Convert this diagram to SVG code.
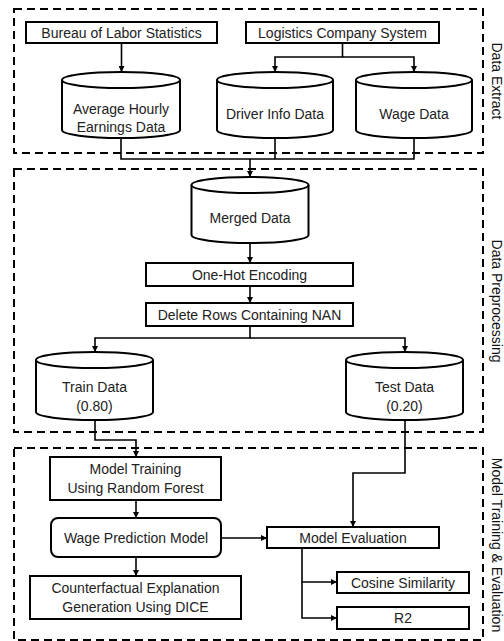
<svg xmlns="http://www.w3.org/2000/svg" width="504" height="641" viewBox="0 0 504 641">
<defs>
<marker id="ah" viewBox="0 0 6 6" refX="6" refY="3" markerWidth="6" markerHeight="6" markerUnits="userSpaceOnUse" orient="auto">
<path d="M0,0 L6,3 L0,6 Z" fill="#000"/>
</marker>
</defs>
<style>
.grp{fill:none;stroke:#000;stroke-width:2;stroke-dasharray:8 5}
.box{fill:#fff;stroke:#000;stroke-width:2}
.cyl{fill:#fff;stroke:#000;stroke-width:2}
.t{font-family:"Liberation Sans",Arial,sans-serif;font-size:14px;fill:#222;text-anchor:middle}
.lbl{font-family:"Liberation Sans",Arial,sans-serif;font-size:14px;fill:#111;text-anchor:middle}
.c{fill:none;stroke:#000;stroke-width:1.6}
.a{marker-end:url(#ah)}
</style>

<g id="groups">
<rect class="grp" x="14" y="9" width="469" height="144"/>
<rect class="grp" x="14" y="169" width="469" height="263"/>
<rect class="grp" x="14" y="448" width="469" height="192"/>
<text class="lbl" transform="translate(491.5,81) rotate(90)">Data Extract</text>
<text class="lbl" transform="translate(491.5,301) rotate(90)">Data Preprocessing</text>
<text class="lbl" transform="translate(491.5,545) rotate(90)">Model Training &amp; Evaluation</text>
</g>

<g id="connectors">
<path class="c a" d="M121.5 43 V72"/>
<path class="c a" d="M342.5 43 V57 H275 V72"/>
<path class="c a" d="M342.5 57 H414 V72"/>
<path class="c" d="M121 138 V159 H414 V138"/>
<path class="c" d="M275 138 V159"/>
<path class="c a" d="M250 159 V177"/>
<path class="c a" d="M250 243 V263"/>
<path class="c a" d="M250 286 V303"/>
<path class="c a" d="M250 326 V338 H95 V352"/>
<path class="c a" d="M250 338 H405 V352"/>
<path class="c a" d="M95 420 V440 H136 V457"/>
<path class="c a" d="M136 500 V518"/>
<path class="c a" d="M136 557 V576"/>
<path class="c a" d="M221 538 H267"/>
<path class="c a" d="M405 420 V473 H353 V527"/>
<path class="c a" d="M302 548 V582 H337"/>
<path class="c a" d="M302 582 V618 H337"/>
</g>

<g id="bureau">
<rect class="box" x="26" y="22" width="191" height="21"/>
<text class="t" x="121.5" y="37.5">Bureau of Labor Statistics</text>
</g>
<g id="logistics">
<rect class="box" x="246" y="22" width="193" height="21"/>
<text class="t" x="342.5" y="37.5">Logistics Company System</text>
</g>

<g id="avg-hourly">
<path class="cyl" d="M62 80 V130 A59 8 0 0 0 180 130 V80"/>
<ellipse class="cyl" cx="121" cy="80" rx="59" ry="8"/>
<text class="t" x="121" y="114">Average Hourly</text>
<text class="t" x="121" y="132">Earnings Data</text>
</g>
<g id="driver-info">
<path class="cyl" d="M217 80 V130 A58 8 0 0 0 333 130 V80"/>
<ellipse class="cyl" cx="275" cy="80" rx="58" ry="8"/>
<text class="t" x="275" y="119">Driver Info Data</text>
</g>
<g id="wage-data">
<path class="cyl" d="M356 80 V130 A58 8 0 0 0 472 130 V80"/>
<ellipse class="cyl" cx="414" cy="80" rx="58" ry="8"/>
<text class="t" x="414" y="119">Wage Data</text>
</g>

<g id="merged">
<path class="cyl" d="M191.5 185 V235 A58.5 8 0 0 0 308.5 235 V185"/>
<ellipse class="cyl" cx="250" cy="185" rx="58.5" ry="8"/>
<text class="t" x="250" y="223">Merged Data</text>
</g>
<g id="onehot">
<rect class="box" x="146" y="263" width="207" height="23"/>
<text class="t" x="249.5" y="279.5">One-Hot Encoding</text>
</g>
<g id="delete">
<rect class="box" x="146" y="303" width="207" height="23"/>
<text class="t" x="249.5" y="319.5">Delete Rows Containing NAN</text>
</g>
<g id="train">
<path class="cyl" d="M36 360 V412 A58.5 8 0 0 0 153 412 V360"/>
<ellipse class="cyl" cx="94.5" cy="360" rx="58.5" ry="8"/>
<text class="t" x="94.5" y="392">Train Data</text>
<text class="t" x="94.5" y="411">(0.80)</text>
</g>
<g id="test">
<path class="cyl" d="M346 360 V412 A58.5 8 0 0 0 463 412 V360"/>
<ellipse class="cyl" cx="404.5" cy="360" rx="58.5" ry="8"/>
<text class="t" x="404.5" y="392">Test Data</text>
<text class="t" x="404.5" y="411">(0.20)</text>
</g>

<g id="model-training">
<rect class="box" x="50" y="457" width="171" height="43"/>
<text class="t" x="135.5" y="474">Model Training</text>
<text class="t" x="135.5" y="493">Using Random Forest</text>
</g>
<g id="wage-prediction">
<rect class="box" x="51" y="518" width="170" height="39" rx="7"/>
<text class="t" x="136" y="542.5">Wage Prediction Model</text>
</g>
<g id="counterfactual">
<rect class="box" x="30" y="576" width="211" height="43"/>
<text class="t" x="135.5" y="593">Counterfactual Explanation</text>
<text class="t" x="135.5" y="612">Generation Using DICE</text>
</g>
<g id="model-evaluation">
<rect class="box" x="267" y="527" width="172" height="21"/>
<text class="t" x="353" y="542.5">Model Evaluation</text>
</g>
<g id="cosine">
<rect class="box" x="337" y="572" width="132" height="21"/>
<text class="t" x="403" y="587.5">Cosine Similarity</text>
</g>
<g id="r2">
<rect class="box" x="337" y="607" width="132" height="22"/>
<text class="t" x="403" y="623">R2</text>
</g>
</svg>
